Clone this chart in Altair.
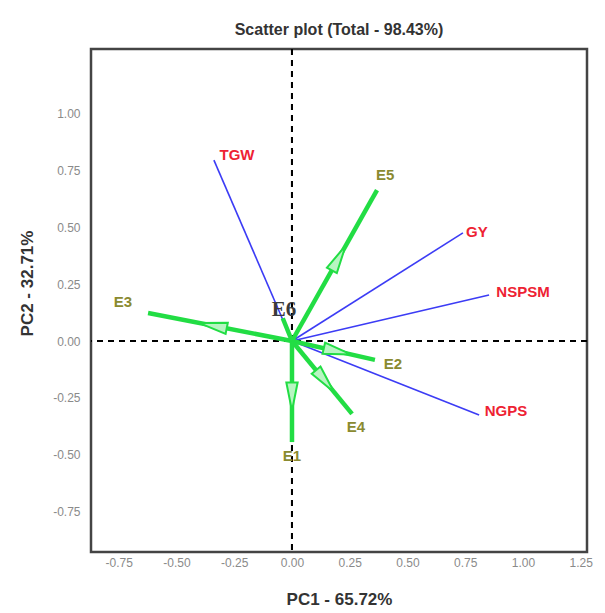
import altair as alt
import numpy as np
import pandas as pd

# Trait vectors (blue) and labels (red)
traits = ["TGW", "GY", "NSPSM", "NGPS"]
trait_x = [-0.338, 0.740, 0.853, 0.810]
trait_y = [0.795, 0.475, 0.202, -0.325]
trait_lx = [-0.238, 0.800, 1.000, 0.926]
trait_ly = [0.817, 0.479, 0.215, -0.308]

# Environment vectors (green) and labels (olive)
envs = ["E1", "E2", "E3", "E4", "E5", "E6"]
env_x = [0.0, 0.359, -0.623, 0.260, 0.368, -0.040]
env_y = [-0.444, -0.083, 0.123, -0.320, 0.663, 0.100]
env_lx = [0.0, 0.437, -0.732, 0.277, 0.403, -0.035]
env_ly = [-0.505, -0.101, 0.171, -0.378, 0.729, 0.136]

x_ticks = [-0.75, -0.5, -0.25, 0.0, 0.25, 0.5, 0.75, 1.0, 1.25]
y_ticks = [-0.75, -0.5, -0.25, 0.0, 0.25, 0.5, 0.75, 1.0]

tr = pd.DataFrame({"name": traits, "x": trait_x, "y": trait_y,
                   "lx": trait_lx, "ly": trait_ly})
tr["x0"] = 0.0
tr["y0"] = 0.0
en = pd.DataFrame({"name": envs, "x": env_x, "y": env_y,
                   "lx": env_lx, "ly": env_ly})
en["x0"] = 0.0
en["y0"] = 0.0
en["len"] = np.hypot(en["x"], en["y"])
heads = en[en["len"] > 0.2].copy()
heads["hx"] = heads["x"] * 0.55
heads["hy"] = heads["y"] * 0.55
heads["ang"] = (np.degrees(np.arctan2(heads["x"], heads["y"])) + 360) % 360

lab_expr = "replace(format(datum.value, '.2f'), '\u2212', '-')"
xs = alt.Scale(domain=[-0.870, 1.277], nice=False, zero=False)
ys = alt.Scale(domain=[-0.927, 1.283], nice=False, zero=False)

x_axis = alt.Axis(values=x_ticks, labelExpr=lab_expr, grid=False, ticks=False,
                  domain=False, labelFont="Liberation Sans", labelFontSize=12,
                  labelColor="#8a8a8a", labelPadding=5,
                  title="PC1 - 65.72%", titleFont="Liberation Sans",
                  titleFontSize=17, titleFontWeight="bold", titleColor="#333333",
                  titleY=47, titleBaseline="middle")
y_axis = alt.Axis(values=y_ticks, labelExpr=lab_expr, grid=False, ticks=False,
                  domain=False, labelFont="Liberation Sans", labelFontSize=12,
                  labelColor="#8a8a8a", labelPadding=11,
                  title="PC2 - 32.71%", titleFont="Liberation Sans",
                  titleFontSize=17, titleFontWeight="bold", titleColor="#333333",
                  titleX=-64, titleY=234, titleBaseline="middle")

vline = alt.Chart(tr).mark_rule(color="black", strokeWidth=2, strokeDash=[6, 5]).encode(
    x=alt.datum(0, scale=xs, axis=x_axis, type="quantitative"))
hline = alt.Chart(tr).mark_rule(color="black", strokeWidth=2, strokeDash=[6, 5]).encode(
    y=alt.datum(0, scale=ys, axis=y_axis, type="quantitative"))

blue = alt.Chart(tr).mark_rule(color="#3c3cf5", strokeWidth=1.6).encode(
    x=alt.X("x0:Q", scale=xs), y=alt.Y("y0:Q", scale=ys),
    x2="x:Q", y2="y:Q")

green = alt.Chart(en).mark_rule(color="#22dd44", strokeWidth=4.5).encode(
    x=alt.X("x0:Q", scale=xs), y=alt.Y("y0:Q", scale=ys),
    x2="x:Q", y2="y:Q")

arrow = alt.Chart(heads).mark_point(
    shape="M0,-1 L0.4,1 L-0.4,1 Z", size=800, filled=True,
    fill="#b8f5c2", stroke="#22dd44", strokeWidth=2, opacity=1).encode(
    x=alt.X("hx:Q", scale=xs), y=alt.Y("hy:Q", scale=ys),
    angle=alt.Angle("ang:Q", scale=None))

tlab = alt.Chart(tr).mark_text(font="Liberation Sans", fontSize=15, fontWeight="bold",
                               color="#ee2233", align="center", baseline="middle").encode(
    x=alt.X("lx:Q", scale=xs), y=alt.Y("ly:Q", scale=ys), text="name:N")

en_main = en[en["name"] != "E6"]
elab = alt.Chart(en_main).mark_text(font="Liberation Sans", fontSize=15, fontWeight="bold",
                                    color="#8a8a30", align="center", baseline="middle").encode(
    x=alt.X("lx:Q", scale=xs), y=alt.Y("ly:Q", scale=ys), text="name:N")

e6 = alt.Chart(en[en["name"] == "E6"]).mark_text(
    font="Liberation Serif", fontSize=21, fontWeight="bold",
    color="#3a3a3a", align="center", baseline="middle").encode(
    x=alt.X("lx:Q", scale=xs), y=alt.Y("ly:Q", scale=ys), text="name:N")

chart = alt.layer(vline, hline, blue, green, arrow, tlab, elab, e6).properties(
    width=496, height=503,
    padding={"left": 83, "top": 41, "right": 10, "bottom": 55},
    autosize=alt.AutoSizeParams(type="none"),
    title=alt.TitleParams("Scatter plot (Total - 98.43%)", font="Liberation Sans",
                          fontSize=16, fontWeight="bold", color="#333333", offset=10),
).configure_view(stroke="#444444", strokeWidth=2.5)

chart.save("out.html", embed_options={"renderer": "svg", "actions": False})
